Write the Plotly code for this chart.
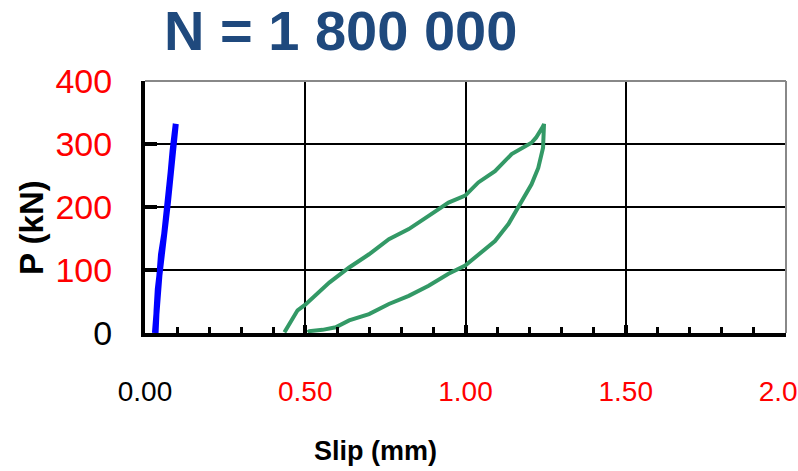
import plotly.graph_objects as go

# ---- data ----
blue_slip = [0.031, 0.035, 0.038, 0.042, 0.050, 0.060, 0.068, 0.074, 0.080, 0.086, 0.090, 0.096,
             0.094, 0.088, 0.083, 0.077, 0.071, 0.064, 0.056, 0.047, 0.040, 0.036, 0.033]
blue_load = [0, 30, 60, 94, 125, 157, 190, 220, 255, 289, 315, 332,
             320, 295, 265, 235, 205, 175, 145, 110, 70, 35, 0]

green_slip = [0.435, 0.476, 0.500, 0.575, 0.637, 0.699, 0.761, 0.823, 0.885, 0.947, 0.999,
              1.040, 1.092, 1.144, 1.206, 1.220, 1.242, 1.245,
              1.242, 1.227, 1.206, 1.165, 1.134, 1.092, 1.040, 0.999, 0.947, 0.885,
              0.823, 0.761, 0.699, 0.637, 0.595, 0.554, 0.513, 0.508]
green_load = [1, 36, 45, 80, 104, 125, 149, 165, 186, 207, 218,
              239, 257, 284, 302, 310, 328, 332,
              294, 262, 236, 199, 173, 146, 125, 107, 94, 75,
              59, 46, 30, 20, 9, 5, 3, 1]

x_tickvals = [0, 0.5, 1.0, 1.5, 2.0]
x_ticklabels = ["0.00", "0.50", "1.00", "1.50", "2.00"]
x_tickcolors = ["black", "red", "red", "red", "red"]
y_tickvals = [0, 100, 200, 300, 400]
y_ticklabels = ["0", "100", "200", "300", "400"]
y_tickcolors = ["black", "red", "red", "red", "red"]

title_text = "N = 1 800 000"
x_title = "Slip (mm)"
y_title = "P (kN)"

FONT = "Liberation Sans, Arial, sans-serif"

fig = go.Figure()
fig.add_trace(go.Scatter(x=green_slip, y=green_load, mode="lines",
                         line=dict(color="#339966", width=4), showlegend=False))
fig.add_trace(go.Scatter(x=blue_slip, y=blue_load, mode="lines",
                         line=dict(color="#0000FF", width=6), showlegend=False))

def colored(labels, colors):
    return [f'<span style="color:{c}">{t}</span>' for t, c in zip(labels, colors)]

fig.update_layout(
    width=798, height=471,
    margin=dict(l=145, r=12, t=81, b=138, autoexpand=False),
    paper_bgcolor="white", plot_bgcolor="white",
    font=dict(family=FONT, color="black"),
    showlegend=False,
)

fig.update_xaxes(
    range=[0, 2], tickmode="array", tickvals=x_tickvals,
    ticktext=colored(x_ticklabels, x_tickcolors),
    tickfont=dict(size=28, color="red"),
    showgrid=True, gridcolor="black", gridwidth=2,
    showline=True, linecolor="black", linewidth=4,
    ticks="inside", ticklen=8, tickwidth=4, tickcolor="black",
    ticklabelstandoff=30, ticklabeloverflow="allow", automargin=False,
    minor=dict(dtick=0.1, ticks="inside", ticklen=6, tickwidth=3, tickcolor="black", showgrid=False),
    zeroline=False, fixedrange=True,
)
fig.update_yaxes(
    range=[0, 400], tickmode="array", tickvals=y_tickvals,
    ticktext=colored(y_ticklabels, y_tickcolors),
    tickfont=dict(size=34, color="red"),
    showgrid=True, gridcolor="black", gridwidth=2,
    showline=True, linecolor="black", linewidth=4,
    ticks="inside", ticklen=12, tickwidth=4, tickcolor="black",
    ticklabelstandoff=22, automargin=False,
    zeroline=False, fixedrange=True,
)

# gray top and right border
fig.add_shape(type="line", xref="paper", yref="paper", x0=0, x1=1, y0=1, y1=1,
              line=dict(color="#888888", width=2))
fig.add_shape(type="line", xref="paper", yref="paper", x0=1, x1=1, y0=0, y1=1,
              line=dict(color="#888888", width=2))

fig.add_annotation(text=f"<b>{title_text}</b>", xref="paper", yref="paper",
                   x=(340 - 145) / 641, y=1 + (81 - 30) / 252, showarrow=False,
                   xanchor="center", yanchor="middle",
                   font=dict(size=56, color="#1F497D", family=FONT))
fig.add_annotation(text=f"<b>{x_title}</b>", xref="paper", yref="paper",
                   x=(375 - 145) / 641, y=-(451 - 333) / 252, showarrow=False,
                   xanchor="center", yanchor="middle",
                   font=dict(size=27, color="black", family=FONT))
fig.add_annotation(text=f"<b>{y_title}</b>", xref="paper", yref="paper",
                   x=-(145 - 32) / 641, y=(333 - 228) / 252, showarrow=False,
                   xanchor="center", yanchor="middle", textangle=-90,
                   font=dict(size=33, color="black", family=FONT))

fig.write_html("out.html", config={"displayModeBar": False},
               post_script="document.body.style.margin='0';document.body.style.overflow='hidden';")
